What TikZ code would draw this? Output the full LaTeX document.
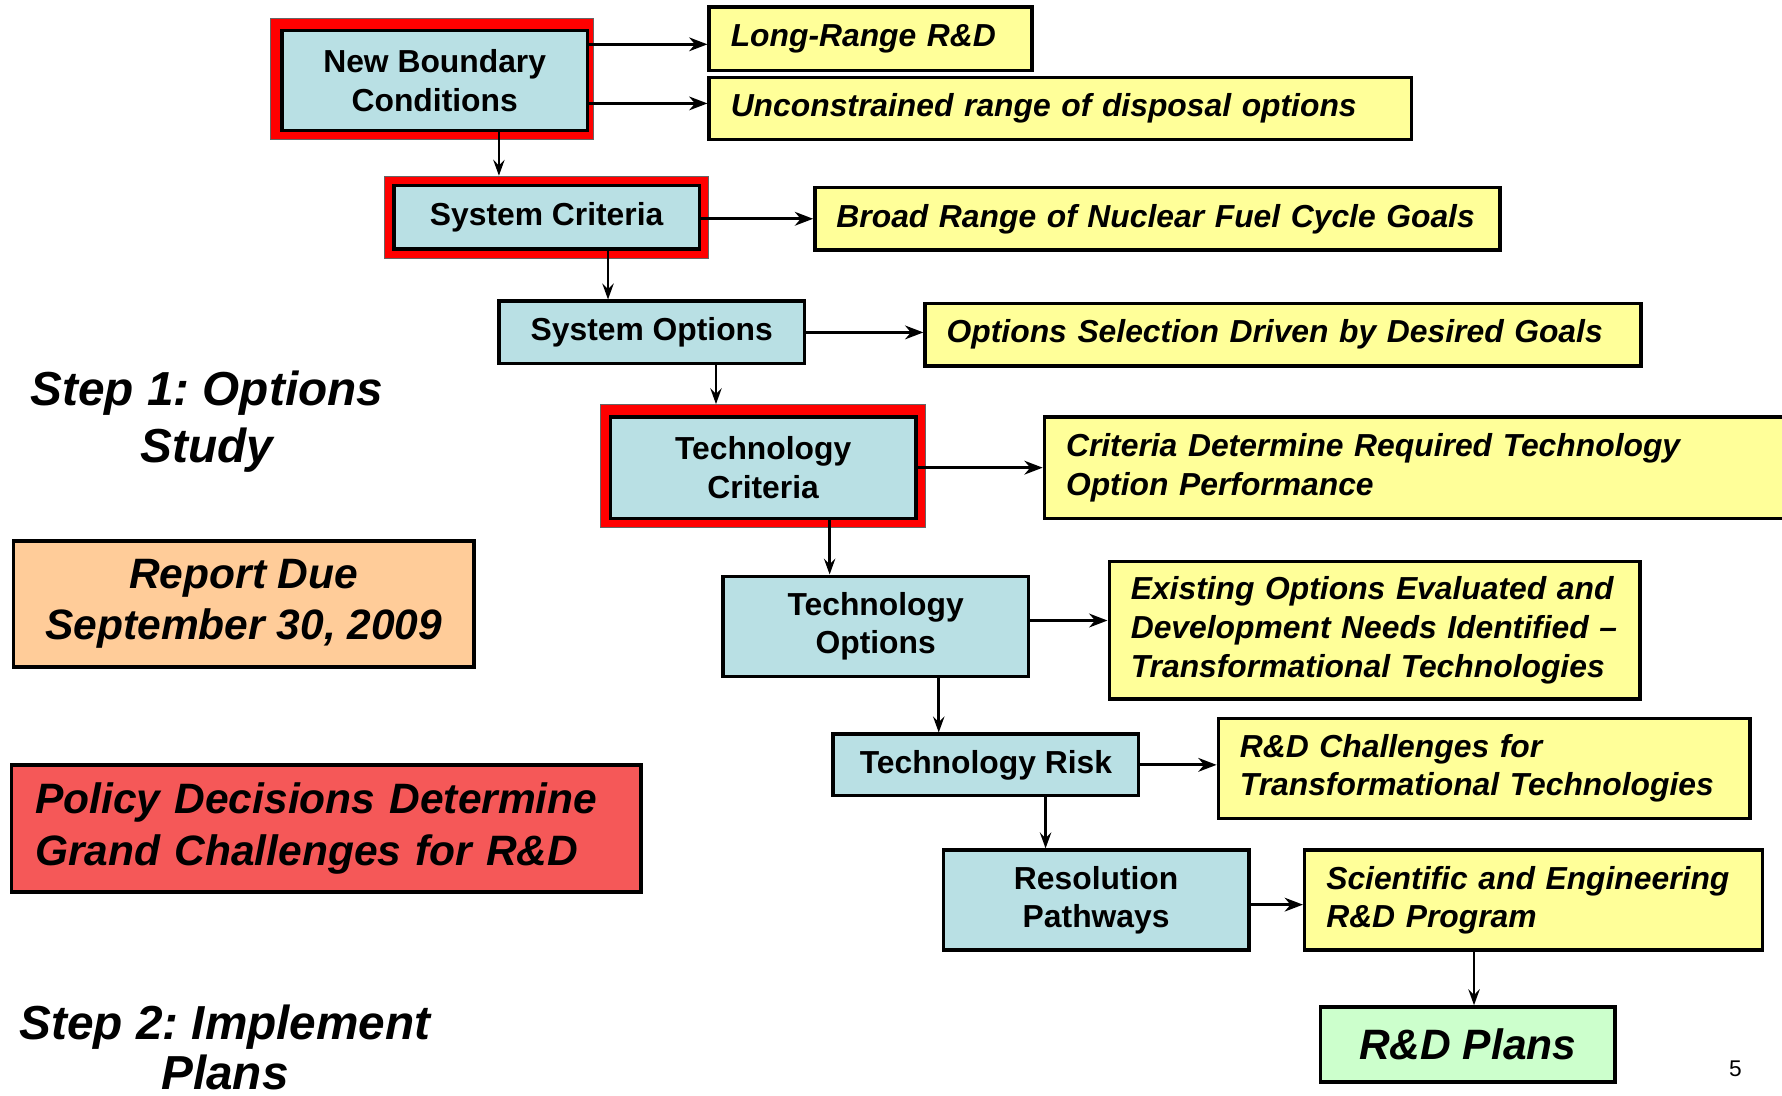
\documentclass[tikz,border=0pt]{standalone}
\usepackage{fontspec}
\setmainfont{Liberation Sans}
\usetikzlibrary{arrows.meta,calc}
\definecolor{boxblue}{RGB}{185,224,228}
\definecolor{noteyellow}{RGB}{255,255,153}
\definecolor{duetan}{RGB}{255,204,153}
\definecolor{plangreen}{RGB}{204,255,204}
\definecolor{policyred}{RGB}{245,88,88}
\frenchspacing
\begin{document}
\begin{tikzpicture}[x=0.5pt,y=-0.5pt,
  stagebox/.style={draw=black, line width=1.5pt, fill=boxblue, minimum width=134.5pt,
    inner sep=0pt, align=center, font=\fontsize{14pt}{17pt}\selectfont\bfseries},
  redframe/.style={draw=black!60, line width=0.4pt, fill=red, inner sep=0pt},
  note/.style={draw=black, line width=1.5pt, fill=noteyellow, inner ysep=0pt, inner xsep=9.5pt,
    align=left, font=\fontsize{14pt}{17pt}\selectfont\bfseries\itshape},
  bigbox/.style={draw=black, line width=1.5pt, inner sep=0pt,
    font=\fontsize{18.7pt}{22.5pt}\selectfont\bfseries\itshape},
  steptext/.style={align=center, inner sep=0pt, font=\fontsize{21pt}{25pt}\selectfont\bfseries\itshape},
  arr/.style={line width=1.4pt, -{Stealth[length=8pt,width=6pt,inset=2.5pt]}},
  varr/.style={line width=1.1pt, -{Stealth[length=7pt,width=5pt,inset=2.5pt]}},
]
\useasboundingbox (0,0) rectangle (1568,964);
\clip (0,0) rectangle (1568,964);

% main chain of stages
\node[redframe, minimum width=142pt, minimum height=53.5pt] (nbframe) at (380,69.5) {};
\node[stagebox, minimum height=44pt] (nb) at (382.5,71) {New Boundary\\Conditions};
\node[redframe, minimum width=142.5pt, minimum height=36pt] (scframe) at (480.5,191) {};
\node[stagebox, minimum height=28pt] (sc) at (481,191) {System Criteria};
\node[stagebox, minimum height=27.5pt] (so) at (573.5,292.5) {System Options};
\node[redframe, minimum width=143pt, minimum height=54pt] (tcframe) at (671,410) {};
\node[stagebox, minimum height=44.5pt] (tc) at (671.5,411.5) {Technology\\Criteria};
\node[stagebox, minimum height=44pt] (to) at (770.5,551) {Technology\\Options};
\node[stagebox, minimum height=27pt] (tr) at (867.5,673) {Technology Risk};
\node[stagebox, minimum height=44pt] (rp) at (964.5,792) {Resolution\\Pathways};

% outcome notes
\node[note, text width=123pt, minimum height=28pt] (lr) at (766,34) {Long-Range R\&D};
\node[note, text width=290pt, minimum height=27.5pt] (ur) at (933,95.5) {Unconstrained range of disposal options};
\node[note, text width=282.5pt, minimum height=27.5pt] (br) at (1018.5,192.5) {Broad Range of Nuclear Fuel Cycle Goals};
\node[note, text width=296pt, minimum height=27.5pt] (os) at (1129,294.5) {Options Selection Driven by Desired Goals};
\node[note, text width=331pt, minimum height=44.5pt] (cd) at (1269,411.5) {Criteria Determine Required Technology\\Option Performance};
\node[note, text width=214.5pt, minimum height=60.5pt] (eo) at (1209.5,554.5) {Existing Options Evaluated and\\Development Needs Identified --\\Transformational Technologies};
\node[note, text width=215pt, minimum height=44pt] (rc) at (1306,676) {R\&D Challenges for\\Transformational Technologies};
\node[note, text width=182.5pt, minimum height=44pt] (se) at (1349.5,792) {Scientific and Engineering\\R\&D Program};
\node[bigbox, fill=plangreen, minimum width=129.5pt, minimum height=33pt] (plans) at (1291.5,919) {R\&D Plans};

% left column
\node[steptext] (step1) at (182,371) {Step 1: Options\\Study};
\node[bigbox, fill=duetan, align=center, minimum width=202.5pt, minimum height=55.5pt] (due) at (214.5,531.5) {Report Due\\September 30, 2009};
\node[bigbox, fill=policyred, align=left, text width=256pt, inner xsep=10.5pt, minimum height=56pt] (policy) at (287,729) {Policy Decisions Determine\\Grand Challenges for R\&D};
\node[steptext, font=\fontsize{21pt}{22pt}\selectfont\bfseries\itshape] (step2) at (198,922) {Step 2: Implement\\Plans};
\node[font=\fontsize{10pt}{12pt}\selectfont, inner sep=0pt] (pageno) at (1527,940) {5};

% horizontal connectors
\coordinate (h1) at ($(lr.west)+(0,-2.5pt)$);
\draw[arr] (nb.east |- h1) -- (h1);
\coordinate (h2) at ($(ur.west)+(0,2.25pt)$);
\draw[arr] (nb.east |- h2) -- (h2);
\draw[arr] (sc.east |- br.west) -- (br.west);
\draw[arr] (so.east) -- (so.east -| os.west);
\draw[arr] (tc.east) -- (tc.east -| cd.west);
\coordinate (h3) at ($(to.east)+(0,2.5pt)$);
\draw[arr] (h3) -- (h3 -| eo.west);
\draw[arr] (tr.east) -- (tr.east -| rc.west);
\coordinate (h4) at ($(rp.east)+(0,-2pt)$);
\draw[arr] (h4) -- (h4 -| se.west);

% vertical connectors
\coordinate (v1) at ($(nb.south)+(28.25pt,0)$);
\draw[varr] (v1) -- (v1 |- scframe.north);
\coordinate (v2) at ($(sc.south)+(27pt,0)$);
\draw[varr] (v2) -- (v2 |- so.north);
\coordinate (v3) at ($(so.south)+(28.25pt,0)$);
\draw[varr] (v3) -- (v3 |- tcframe.north);
\coordinate (v4) at ($(tc.south)+(29.25pt,0)$);
\draw[varr] (v4) -- (v4 |- to.north);
\coordinate (v5) at ($(to.south)+(27.75pt,0)$);
\draw[varr] (v5) -- (v5 |- tr.north);
\coordinate (v6) at ($(tr.south)+(26.25pt,0)$);
\draw[varr] (v6) -- (v6 |- rp.north);
\coordinate (v7) at ($(se.south)+(-26.25pt,0)$);
\draw[varr] (v7) -- (v7 |- plans.north);
\end{tikzpicture}
\end{document}
